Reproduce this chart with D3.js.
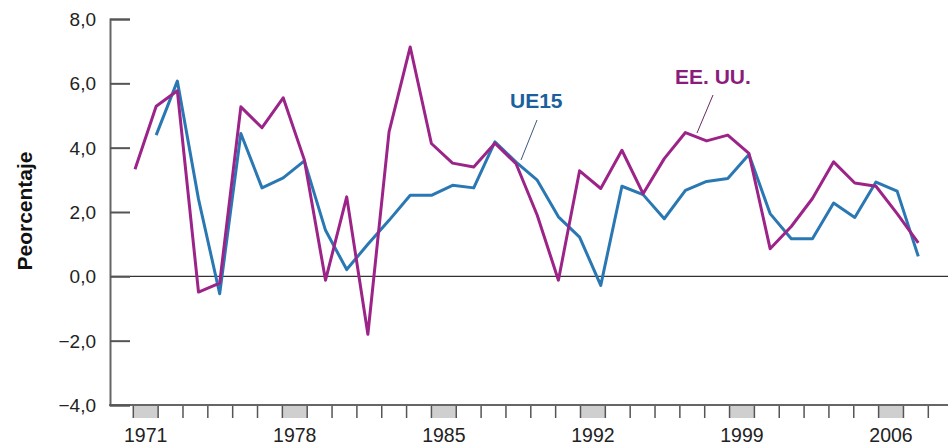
<!DOCTYPE html>
<html>
<head>
<meta charset="utf-8">
<script src="https://cdn.jsdelivr.net/npm/d3@7"></script>
<style>
  body { margin: 0; background: #fff; }
  svg { display: block; font-family: "Liberation Sans", Arial, sans-serif; }
</style>
</head>
<body>
<svg width="950" height="446"></svg>
<script>
// years of the series
var years = [1970,1971,1972,1973,1974,1975,1976,1977,1978,1979,
             1980,1981,1982,1983,1984,1985,1986,1987,1988,1989,
             1990,1991,1992,1993,1994,1995,1996,1997,1998,1999,
             2000,2001,2002,2003,2004,2005,2006,2007]

// EE. UU. growth, %
var usa = [3.33,5.29,5.77,-0.49,-0.21,5.27,4.62,5.55,3.62,-0.12,
           2.47,-1.80,4.49,7.13,4.13,3.52,3.40,4.14,3.50,1.90,
           -0.12,3.28,2.73,3.92,2.57,3.66,4.47,4.21,4.39,3.82,
           0.86,1.55,2.42,3.56,2.90,2.80,1.95,1.04]

// UE15 growth, % (no value for 1970)
var eu15 = [null,4.39,6.07,2.40,-0.54,4.44,2.75,3.06,3.59,1.43,
            0.21,1.00,1.74,2.52,2.52,2.83,2.75,4.18,3.55,2.99,
            1.85,1.22,-0.28,2.80,2.54,1.79,2.67,2.95,3.04,3.79,
            1.95,1.17,1.17,2.28,1.83,2.93,2.65,0.62]

var yTicks = [-4,-2,0,2,4,6,8]
var xLabels = ["1971","1978","1985","1992","1999","2006"]
var xLabelSlot = [0,6,12,18,24,30]   // shaded slot under each label
var slotCount = 32

var svg = d3.select("svg")

var x = d3.scaleLinear().domain([1970,2007]).range([135,918.3])
var y = d3.scaleLinear().domain([-4,8]).range([405,19])
var slot = d3.scaleLinear().domain([0,slotCount]).range([133.3,928.3])

var fmt = function(v)
{
  var s = Math.abs(v).toFixed(1).replace(".", ",")
  return v < 0 ? "\u2212" + s : s
}

// shaded label slots
svg.append("g")
  .selectAll("rect")
  .data(xLabelSlot)
  .join("rect")
  .attr("x", d => slot(d))
  .attr("y", y(-4))
  .attr("width", d => slot(d+1) - slot(d))
  .attr("height", 13)
  .attr("fill", "#cfcfcf")

// small ticks under the x axis
svg.append("g")
  .selectAll("line")
  .data(d3.range(slotCount+1))
  .join("line")
  .attr("x1", d => slot(d)).attr("x2", d => slot(d))
  .attr("y1", y(-4)).attr("y2", y(-4) + 13)
  .attr("stroke", "#555")
  .attr("stroke-width", 1.5)

// x axis line
svg.append("line")
  .attr("x1", 109).attr("x2", 948)
  .attr("y1", y(-4)).attr("y2", y(-4))
  .attr("stroke", "#666").attr("stroke-width", 2)

// zero line
svg.append("line")
  .attr("x1", 110).attr("x2", 948)
  .attr("y1", y(0)).attr("y2", y(0))
  .attr("stroke", "#333").attr("stroke-width", 1.3)

// y axis
var yAxis = svg.append("g")
  .attr("transform", "translate(110,0)")
  .call(d3.axisRight(y).tickValues(yTicks).tickSize(20).tickFormat(""))
yAxis.select(".domain").attr("stroke", "#666").attr("stroke-width", 2)
yAxis.selectAll(".tick line").attr("stroke", "#555").attr("stroke-width", 2)

svg.append("g")
  .selectAll("text")
  .data(yTicks)
  .join("text")
  .attr("x", 96)
  .attr("y", d => y(d))
  .attr("dy", "0.36em")
  .attr("text-anchor", "end")
  .attr("font-size", 19)
  .attr("fill", "#222")
  .text(fmt)

svg.append("text")
  .attr("transform", "translate(32,211) rotate(-90)")
  .attr("text-anchor", "middle")
  .attr("font-size", 21)
  .attr("font-weight", "bold")
  .attr("fill", "#111")
  .text("Peorcentaje")

// x labels
svg.append("g")
  .selectAll("text")
  .data(xLabels)
  .join("text")
  .attr("x", (d,i) => (slot(xLabelSlot[i]) + slot(xLabelSlot[i]+1)) / 2)
  .attr("y", 442)
  .attr("text-anchor", "middle")
  .attr("font-size", 19.5)
  .attr("fill", "#222")
  .text(d => d)

// lines
var line = d3.line()
  .defined(d => d[1] != null)
  .x(d => x(d[0]))
  .y(d => y(d[1]))

svg.append("path")
  .datum(years.map((yr,i) => [yr, eu15[i]]))
  .attr("d", line)
  .attr("fill", "none")
  .attr("stroke", "#2a78b3")
  .attr("stroke-width", 3)
  .attr("stroke-linejoin", "round")

svg.append("path")
  .datum(years.map((yr,i) => [yr, usa[i]]))
  .attr("d", line)
  .attr("fill", "none")
  .attr("stroke", "#9c2488")
  .attr("stroke-width", 3)
  .attr("stroke-linejoin", "round")

// series labels with leader lines
svg.append("line")
  .attr("x1", 537).attr("y1", 120).attr("x2", 521).attr("y2", 160)
  .attr("stroke", "#3a5a7a").attr("stroke-width", 1)
svg.append("text")
  .attr("x", 510).attr("y", 108)
  .attr("font-size", 21).attr("font-weight", "bold")
  .attr("fill", "#1b5f9e")
  .text("UE15")

svg.append("line")
  .attr("x1", 713).attr("y1", 95).attr("x2", 697).attr("y2", 133)
  .attr("stroke", "#6a2a60").attr("stroke-width", 1)
svg.append("text")
  .attr("x", 675).attr("y", 83.5)
  .attr("font-size", 21).attr("font-weight", "bold")
  .attr("fill", "#8c1c7c")
  .text("EE. UU.")
</script>
</body>
</html>
